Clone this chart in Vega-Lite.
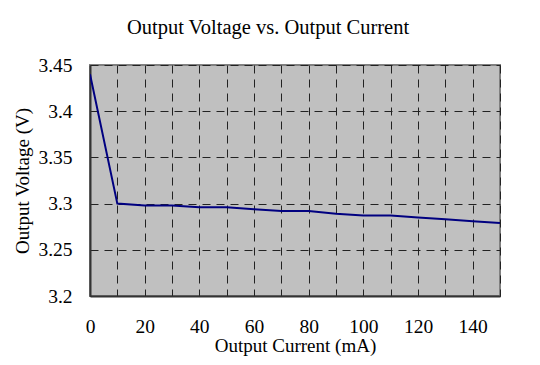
{
  "$schema": "https://vega.github.io/schema/vega-lite/v6.json",
  "width": 410,
  "height": 231,
  "autosize": {"type": "none"},
  "padding": {"left": 90, "top": 65, "right": 40, "bottom": 69},
  "background": "white",
  "title": {
    "text": "Output Voltage vs. Output Current",
    "font": "Liberation Serif",
    "fontSize": 20.5,
    "fontWeight": "normal",
    "color": "#000000",
    "anchor": "middle",
    "frame": "group",
    "dx": -27,
    "offset": 17
  },
  "data": {
    "values": [
      {"current": 0, "voltage": 3.44},
      {"current": 10, "voltage": 3.300},
      {"current": 20, "voltage": 3.298},
      {"current": 30, "voltage": 3.298},
      {"current": 40, "voltage": 3.296},
      {"current": 50, "voltage": 3.296},
      {"current": 60, "voltage": 3.294},
      {"current": 70, "voltage": 3.292},
      {"current": 80, "voltage": 3.292},
      {"current": 90, "voltage": 3.289},
      {"current": 100, "voltage": 3.287},
      {"current": 110, "voltage": 3.287},
      {"current": 120, "voltage": 3.285},
      {"current": 130, "voltage": 3.283},
      {"current": 140, "voltage": 3.281},
      {"current": 150, "voltage": 3.279}
    ]
  },
  "mark": {"type": "line", "color": "#000080", "strokeWidth": 2, "clip": true},
  "encoding": {
    "x": {
      "field": "current",
      "type": "quantitative",
      "scale": {"domain": [0, 150], "nice": false, "zero": false},
      "axis": {
        "title": "Output Current (mA)",
        "values": [0, 10, 20, 30, 40, 50, 60, 70, 80, 90, 100, 110, 120, 130, 140, 150],
        "labelExpr": "datum.value % 20 == 0 && datum.value < 150 ? datum.label : ''",
        "ticks": false,
        "labelPadding": 21,
        "titlePadding": 1
      }
    },
    "y": {
      "field": "voltage",
      "type": "quantitative",
      "scale": {"domain": [3.2, 3.45], "nice": false, "zero": false},
      "axis": {
        "title": "Output Voltage (V)",
        "values": [3.2, 3.25, 3.3, 3.35, 3.4, 3.45],
        "format": "~g",
        "ticks": false,
        "labelPadding": 18,
        "titlePadding": 5
      }
    }
  },
  "config": {
    "view": {"fill": "#c0c0c0", "stroke": "#808080", "strokeWidth": 2},
    "axis": {
      "labelFont": "Liberation Serif",
      "labelFontSize": 19.5,
      "labelColor": "#000000",
      "titleFont": "Liberation Serif",
      "titleFontSize": 19,
      "titleFontWeight": "normal",
      "titleColor": "#000000",
      "domainColor": "#333333",
      "domainWidth": 2,
      "grid": true,
      "gridColor": "#222222",
      "gridOpacity": 1,
      "gridWidth": 1,
      "gridDash": [8, 6],
      "labelFlush": false,
      "labelOverlap": false
    }
  }
}
